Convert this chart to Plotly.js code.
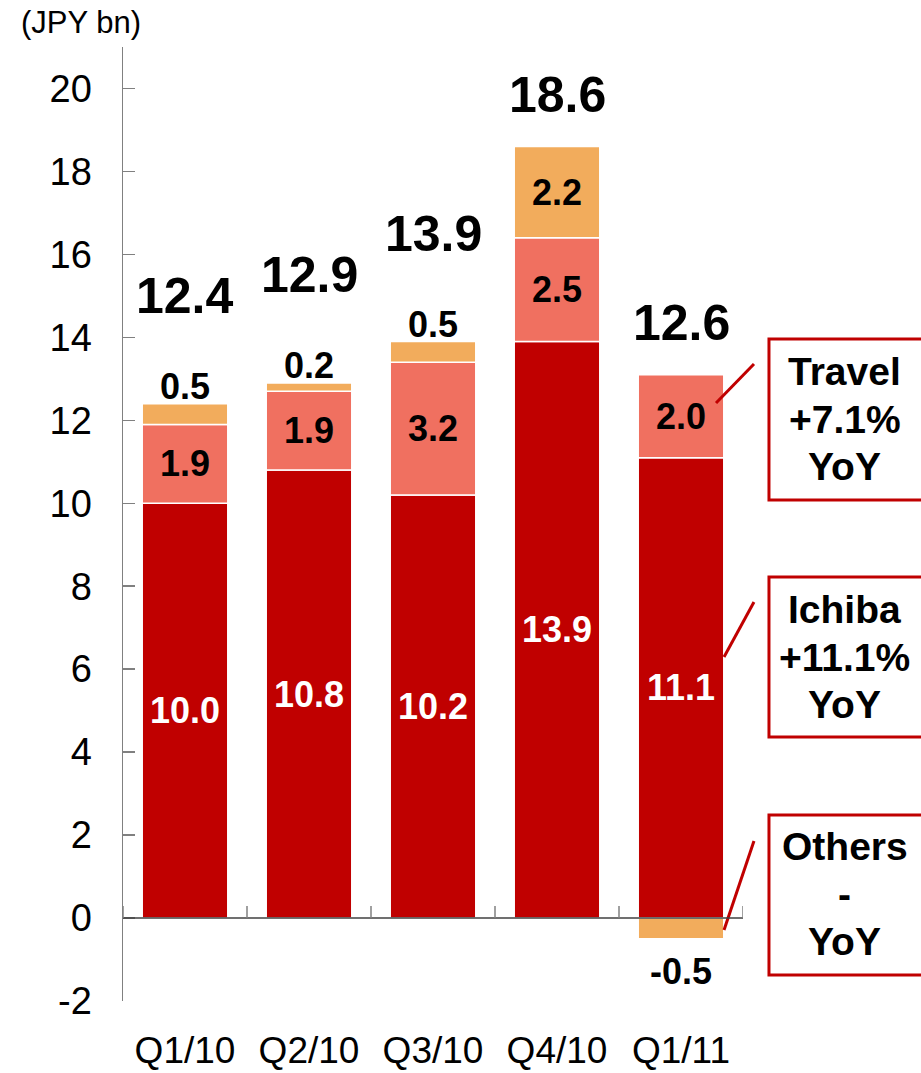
<!DOCTYPE html>
<html>
<head>
<meta charset="utf-8">
<script src="https://cdn.plot.ly/plotly-3.0.1.min.js"></script>
<style>html,body{margin:0;padding:0;background:#fff;}#chart{width:921px;height:1073px;}</style>
</head>
<body>
<div id="chart"></div>
<script>
// ---- data ----
const quarters = ["Q1/10", "Q2/10", "Q3/10", "Q4/10", "Q1/11"];
const ichiba   = [10.0, 10.8, 10.2, 13.9, 11.1];
const travel   = [1.9, 1.9, 3.2, 2.5, 2.0];
const others   = [0.5, 0.2, 0.5, 2.2, -0.5];
const totals   = [12.4, 12.9, 13.9, 18.6, 12.6];
const yTicks   = [-2, 0, 2, 4, 6, 8, 10, 12, 14, 16, 18, 20];
const calloutLines = [["Travel", "+7.1%", "YoY"], ["Ichiba", "+11.1%", "YoY"], ["Others", "-", "YoY"]];

const FONT = '"Liberation Sans", Arial, sans-serif';
const C_ICHIBA = '#C00000', C_TRAVEL = '#F07060', C_OTHERS = '#F2AC5C';

const mk = (name, y, color) => ({ type: 'bar', name: name, x: quarters, y: y, width: 0.69, hoverinfo: 'skip',
  marker: { color: color, line: { color: '#ffffff', width: 1.5 } } });
const traces = [mk('Ichiba', ichiba, C_ICHIBA), mk('Travel', travel, C_TRAVEL), mk('Others', others, C_OTHERS)];

const ann = [];
const fmt = v => v.toFixed(1);
quarters.forEach((q, i) => {
  ann.push({ x: q, y: ichiba[i] / 2, text: fmt(ichiba[i]), showarrow: false,
    font: { family: FONT, size: 36, color: '#ffffff', weight: 'bold' } });
  ann.push({ x: q, y: ichiba[i] + travel[i] / 2, text: fmt(travel[i]), showarrow: false,
    font: { family: FONT, size: 36, color: '#000', weight: 'bold' } });
  const posTop = ichiba[i] + travel[i] + Math.max(others[i], 0);
  let othersAbove = false;
  if (others[i] < 0) {
    ann.push({ x: q, y: others[i], text: fmt(others[i]), showarrow: false, yanchor: 'middle', yshift: -33,
      font: { family: FONT, size: 36, color: '#000', weight: 'bold' } });
  } else if (others[i] >= 1) {
    ann.push({ x: q, y: ichiba[i] + travel[i] + others[i] / 2, text: fmt(others[i]), showarrow: false,
      font: { family: FONT, size: 36, color: '#000', weight: 'bold' } });
  } else {
    othersAbove = true;
    ann.push({ x: q, y: posTop, text: fmt(others[i]), showarrow: false, yanchor: 'middle', yshift: 17,
      font: { family: FONT, size: 36, color: '#000', weight: 'bold' } });
  }
  ann.push({ x: q, y: posTop, text: fmt(totals[i]), showarrow: false, yanchor: 'middle',
    yshift: othersAbove ? 108 : 52,
    font: { family: FONT, size: 50, color: '#000', weight: 'bold' } });
});

ann.push({ xref: 'paper', yref: 'paper', x: -0.168, y: 1.026, xanchor: 'left', yanchor: 'middle',
  text: '(JPY bn)', showarrow: false, font: { family: FONT, size: 31, color: '#000' } });

const boxes = [
  { y0: 0.5252, y1: 0.6939, lx0: 0.9565, ly0: 0.6268, lx1: 1.0177, ly1: 0.6677 },
  { y0: 0.2767, y1: 0.4444, lx0: 0.9694, ly0: 0.3606, lx1: 1.0177, ly1: 0.4182 },
  { y0: 0.0273, y1: 0.1950, lx0: 0.9694, ly0: 0.0744, lx1: 1.0177, ly1: 0.1677 }
];
const lineShifts = [48, 0, -47];
const shapes = [];
boxes.forEach((b, k) => {
  shapes.push({ type: 'rect', xref: 'paper', yref: 'paper', x0: 1.0419, x1: 1.292, y0: b.y0, y1: b.y1,
    line: { color: '#C00000', width: 3 }, fillcolor: '#ffffff' });
  shapes.push({ type: 'line', xref: 'paper', yref: 'paper', x0: b.lx0, y0: b.ly0, x1: b.lx1, y1: b.ly1,
    line: { color: '#C00000', width: 3 } });
  calloutLines[k].forEach((t, j) => {
    ann.push({ xref: 'paper', yref: 'paper', x: 1.1645, y: (b.y0 + b.y1) / 2, yshift: lineShifts[j],
      xanchor: 'center', yanchor: 'middle', text: t, showarrow: false,
      font: { family: FONT, size: 39, color: '#000', weight: 'bold' } });
  });
});

shapes.push({ type: 'line', xref: 'x', yref: 'y', x0: -0.5, x1: 4.5, y0: 0, y1: 0,
  line: { color: '#404040', width: 1.5 }, layer: 'above' });
for (let k = 0; k <= quarters.length; k++) {
  shapes.push({ type: 'line', xref: 'x', yref: 'y', ysizemode: 'pixel', yanchor: 0,
    x0: k - 0.5, x1: k - 0.5, y0: 0, y1: 12, line: { color: '#808080', width: 1.5 } });
}

const layout = {
  width: 921, height: 1073,
  margin: { l: 123, r: 178, t: 47, b: 72 },
  paper_bgcolor: '#ffffff', plot_bgcolor: '#ffffff',
  showlegend: false, barmode: 'relative',
  font: { family: FONT, color: '#000' },
  xaxis: { type: 'category', range: [-0.5, 4.5], showline: false, ticks: '', showgrid: false, zeroline: false,
    tickfont: { family: FONT, size: 37, color: '#000' }, ticklabelstandoff: 24, fixedrange: true },
  yaxis: { range: [-2, 21], tickvals: yTicks, ticktext: yTicks.map(String), ticks: 'inside', ticklen: 12,
    tickcolor: '#808080', tickwidth: 1.5, showline: true, linecolor: '#808080', linewidth: 1.5,
    showgrid: false, zeroline: false, tickfont: { family: FONT, size: 38, color: '#000' },
    ticklabelstandoff: 22, fixedrange: true },
  annotations: ann, shapes: shapes
};
Plotly.newPlot('chart', traces, layout, { displayModeBar: false, staticPlot: true });
</script>
</body>
</html>
